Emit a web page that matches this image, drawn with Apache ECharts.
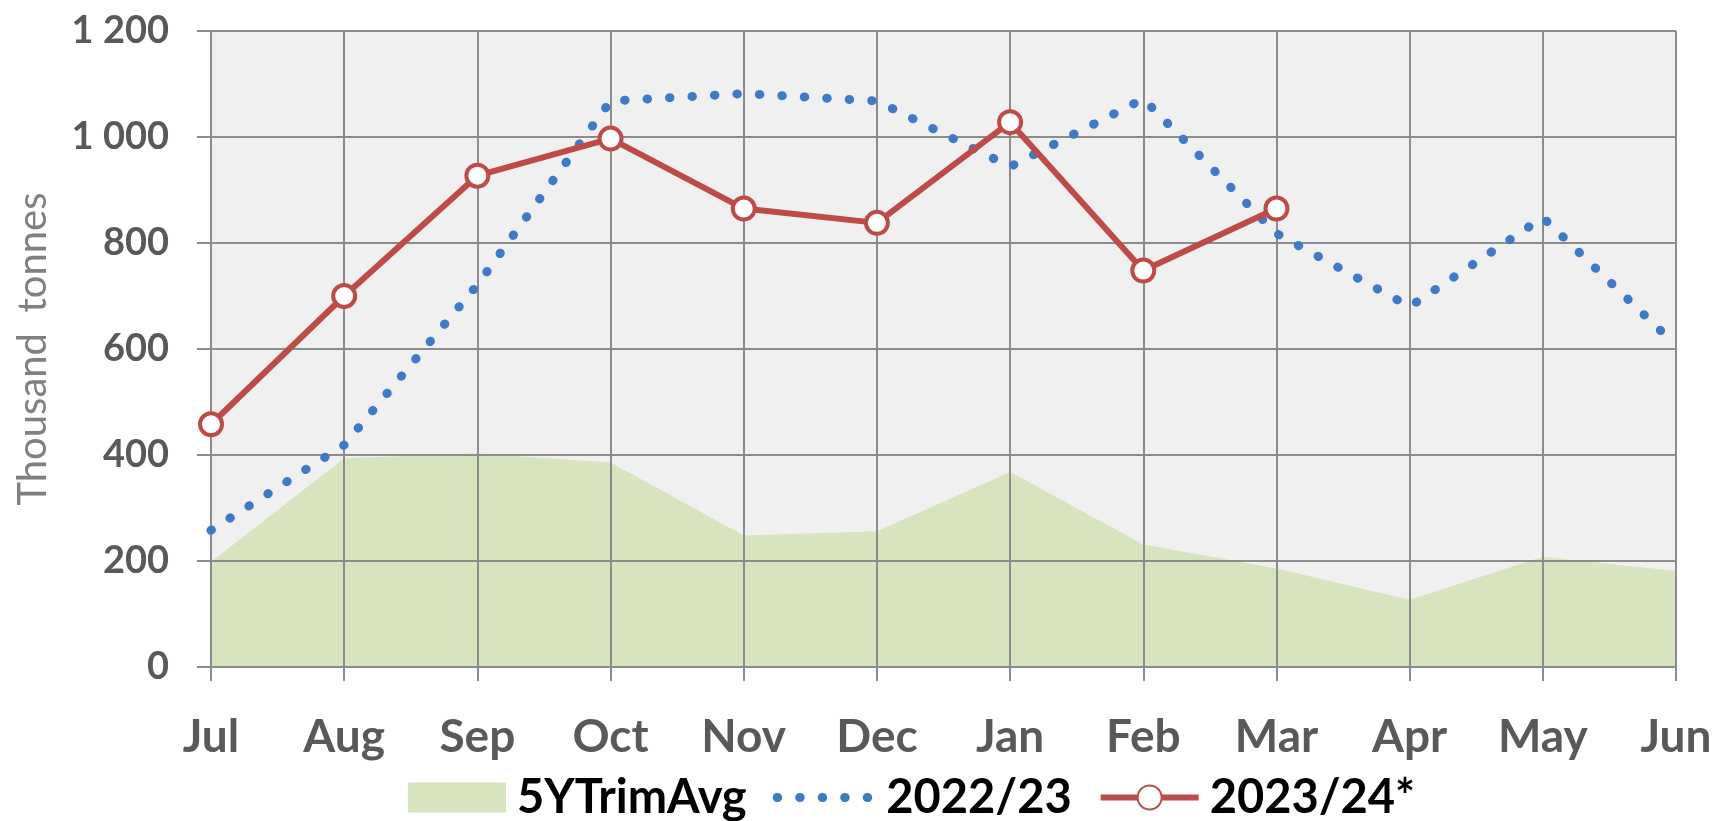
<!DOCTYPE html>
<html>
<head>
<meta charset="utf-8">
<script src="https://cdn.jsdelivr.net/npm/echarts@6/dist/echarts.min.js"></script>
<style>
  html, body { margin: 0; padding: 0; background: #fff; }
  #chart { width: 1717px; height: 821px; }
</style>
</head>
<body>
<div id="chart"></div>
<script type="text/javascript">
var months = ['Jul', 'Aug', 'Sep', 'Oct', 'Nov', 'Dec', 'Jan', 'Feb', 'Mar', 'Apr', 'May', 'Jun'];
var avg5y = [198, 394, 403, 386, 248, 256, 368, 231, 186, 127, 208, 181];
var season2022 = [258, 419, 721, 1068, 1082, 1068, 944, 1072, 818, 680, 848, 607];
var season2023 = [458, 700, 927, 997, 865, 838, 1028, 748, 865];

var gridColor = '#8c8c8c';
var green = '#d7e4bd', blue = '#3e7bc4', red = '#be4b48';

var myChart = echarts.init(document.getElementById('chart'));
var option = {
    animation: false,
    grid: {
        show: true,
        left: 211,
        right: 41,
        top: 31,
        bottom: 154,
        containLabel: false,
        outerBoundsMode: 'none',
        backgroundColor: '#f0f0f0',
        borderWidth: 0
    },
    legend: {
        left: 403,
        top: 769,
        itemWidth: 98,
        itemHeight: 30,
        itemGap: 26,
        textStyle: {
            fontFamily: 'Lato',
            fontWeight: 'bold',
            fontSize: 47,
            color: '#000',
            padding: [0, 0, 0, 6]
        },
        data: [
            {name: '5YTrimAvg', icon: 'rect', itemStyle: {color: green}},
            {
                name: '2022/23',
                itemStyle: {opacity: 0},
                lineStyle: {color: blue, width: 9, type: [0.5, 22], cap: 'round'}
            },
            {
                name: '2023/24*',
                lineStyle: {color: red, width: 6}
            }
        ]
    },
    xAxis: {
        type: 'category',
        z: 2,
        boundaryGap: false,
        data: months,
        axisLine: {lineStyle: {color: gridColor, width: 2}},
        axisTick: {show: true, length: 14, lineStyle: {color: gridColor, width: 2}},
        splitLine: {show: true, lineStyle: {color: gridColor, width: 2}},
        axisLabel: {
            margin: 47,
            fontFamily: 'Lato',
            fontWeight: 'bold',
            fontSize: 46,
            color: '#595959'
        }
    },
    yAxis: {
        type: 'value',
        z: 2,
        min: 0,
        max: 1200,
        interval: 200,
        name: 'Thousand  tonnes',
        nameLocation: 'middle',
        nameRotate: 90,
        nameGap: 158,
        nameTextStyle: {
            fontFamily: 'Lato',
            fontSize: 40,
            color: '#808080'
        },
        axisLine: {show: true, lineStyle: {color: gridColor, width: 2}},
        axisTick: {show: true, length: 14, lineStyle: {color: gridColor, width: 2}},
        splitLine: {show: true, lineStyle: {color: gridColor, width: 2}},
        axisLabel: {
            margin: 42,
            fontFamily: 'Lato',
            fontWeight: 'bold',
            fontSize: 38,
            color: '#595959',
            formatter: function (v) {
                if (v >= 1000) {
                    return Math.floor(v / 1000) + ' ' + String(v % 1000).padStart(3, '0');
                }
                return String(v);
            }
        }
    },
    series: [
        {
            name: '5YTrimAvg',
            type: 'line',
            z: 1,
            data: avg5y,
            symbol: 'none',
            itemStyle: {color: green},
            lineStyle: {width: 0, color: green},
            areaStyle: {color: green, opacity: 1}
        },
        {
            name: '2022/23',
            type: 'line',
            z: 3,
            data: season2022,
            symbol: 'none',
            itemStyle: {color: blue},
            lineStyle: {color: blue, width: 9, type: [0.5, 22], cap: 'round'}
        },
        {
            name: '2023/24*',
            type: 'line',
            z: 4,
            data: season2023,
            symbol: 'circle',
            symbolSize: 22,
            itemStyle: {color: '#fff', borderColor: red, borderWidth: 4},
            lineStyle: {color: red, width: 6}
        }
    ]
};
myChart.setOption(option);
window.addEventListener('resize', function () {
    myChart.resize();
});
</script>
</body>
</html>
